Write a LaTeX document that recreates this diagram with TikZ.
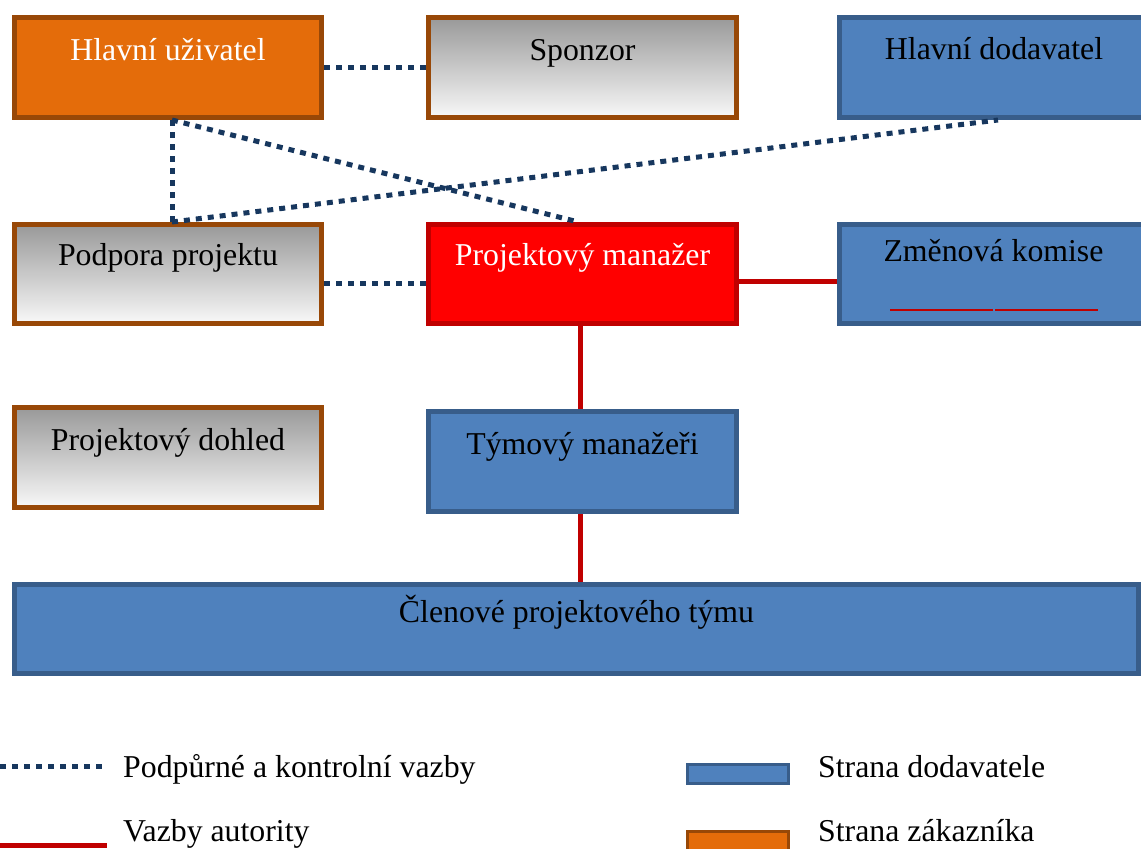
\documentclass[tikz,border=0pt]{standalone}
\usepackage{fontspec}
\setmainfont{Liberation Serif}
\definecolor{orfill}{HTML}{E46C0A}
\definecolor{orline}{HTML}{984807}
\definecolor{blfill}{HTML}{4F81BD}
\definecolor{blline}{HTML}{385D8A}
\definecolor{rdfill}{HTML}{FF0000}
\definecolor{rdline}{HTML}{C00000}
\definecolor{navy}{HTML}{17375E}
\definecolor{gtop}{HTML}{999999}
\definecolor{gbot}{HTML}{F8F8F8}
\begin{document}
\begin{tikzpicture}[x=1pt,y=-1pt,
  basebox/.style={rectangle, line width=5pt, inner sep=0pt},
  orbox/.style={basebox, draw=orline, fill=orfill},
  graybox/.style={basebox, draw=orline, top color=gtop, bottom color=gbot},
  bluebox/.style={basebox, draw=blline, fill=blfill},
  redbox/.style={basebox, draw=rdline, fill=rdfill},
  txt/.style={anchor=base, inner sep=0pt, font=\fontsize{31.8pt}{38pt}\selectfont},
  ltxt/.style={anchor=base west, inner sep=0pt, font=\fontsize{31.8pt}{38pt}\selectfont},
  supp/.style={draw=navy, line width=5pt, dash pattern=on 6pt off 6pt},
  auth/.style={draw=rdline, line width=5pt},
  legbox/.style={rectangle, line width=3pt, inner sep=0pt, minimum width=101pt, minimum height=19pt}
]
\clip (0,0) rectangle (1141,849);
\fill[white] (0,0) rectangle (1141,849);

% boxes
\node[orbox, minimum width=307pt, minimum height=100pt] (hu) at (168,67.5) {};
\node[graybox, minimum width=308pt, minimum height=100pt] (sp) at (582.5,67.5) {};
\node[bluebox, minimum width=309pt, minimum height=100pt] (hd) at (994,67.5) {};
\node[graybox, minimum width=307pt, minimum height=99pt] (pp) at (168,274) {};
\node[redbox, minimum width=308pt, minimum height=99pt] (pm) at (582.5,274) {};
\node[bluebox, minimum width=308pt, minimum height=99pt] (zk) at (993.5,274) {};
\node[graybox, minimum width=307pt, minimum height=100pt] (pd) at (168,457.5) {};
\node[bluebox, minimum width=308pt, minimum height=100pt] (tm) at (582.5,461.5) {};
\node[bluebox, minimum width=1124pt, minimum height=89pt] (cl) at (576.5,629) {};

% texts
\node[txt, white] (hu-t) at ([yshift=-45.5pt]hu.north) {Hlavní uživatel};
\node[txt] (sp-t) at ([yshift=-45.5pt]sp.north) {Sponzor};
\node[txt] (hd-t) at ([yshift=-44.5pt]hd.north) {Hlavní dodavatel};
\node[txt] (pp-t) at ([yshift=-43.5pt]pp.north) {Podpora projektu};
\node[txt, white] (pm-t) at ([yshift=-43.5pt]pm.north) {Projektový manažer};
\node[txt] (zk-t) at ([yshift=-39.5pt]zk.north) {Změnová komise};
\node[txt] (pd-t) at ([yshift=-45.5pt]pd.north) {Projektový dohled};
\node[txt] (tm-t) at ([yshift=-45.5pt]tm.north) {Týmový manažeři};
\node[txt] (cl-t) at ([yshift=-40.5pt]cl.north) {Členové projektového týmu};

% red underline in Změnová komise
\draw[rdline, line width=1.5pt] (890,310) -- (993,310);
\draw[rdline, line width=1.5pt] (995,310) -- (1098,310);

% support connectors
\draw[supp] (hu.east) -- (sp.west);
\draw[supp] ([xshift=4pt]hu.south) -- ([xshift=4pt]pp.north);
\draw[supp] ([xshift=4pt]hu.south) -- ([xshift=-4pt]pm.north);
\draw[supp] ([xshift=4pt]pp.north) -- ([xshift=4pt]hd.south);
\draw[supp] ([yshift=-9pt]pp.east) -- ([yshift=-9pt]pm.west);

% authority connectors
\draw[auth] ([yshift=-7pt]pm.east) -- ([yshift=-7pt]zk.west);
\draw[auth] ([xshift=-2.5pt]pm.south) -- ([xshift=-2.5pt]tm.north);
\draw[auth] ([xshift=-2.5pt]tm.south) -- ([xshift=-2.5pt]tm.south |- cl.north);

% legend
\coordinate (l1a) at (0,766);
\coordinate (l1b) at (104,766);
\draw[supp] (l1a) -- (l1b);
\node[ltxt] (l1t) at (123,777) {Podpůrné a kontrolní vazby};
\coordinate (l2a) at (0,845);
\coordinate (l2b) at (107,845);
\draw[auth] (l2a) -- (l2b);
\node[ltxt] (l2t) at (123,841.5) {Vazby autority};
\node[legbox, draw=blline, fill=blfill] (l3) at (738,774) {};
\node[ltxt] (l3t) at (818,777) {Strana dodavatele};
\node[legbox, draw=orline, fill=orfill] (l4) at (738,840.5) {};
\node[ltxt] (l4t) at (818,841.5) {Strana zákazníka};
\end{tikzpicture}
\end{document}
